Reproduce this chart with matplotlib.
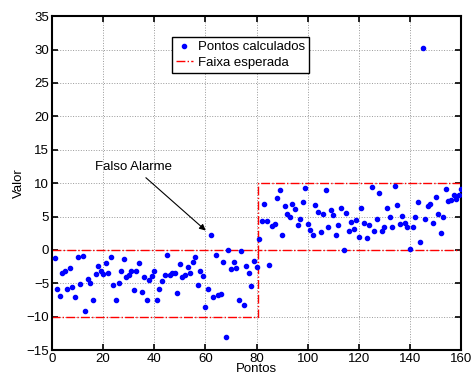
import matplotlib

matplotlib.use("Agg")
import matplotlib.pyplot as plt  # noqa: E402
import numpy as np  # noqa: E402

plt.rcParams["font.family"] = ["Liberation Sans", "DejaVu Sans"]

# computed points, x = 1..160
pontos = np.arange(1, 161)
valores = [
    -1.2, -5.9, -6.9, -3.5, -3.1, -5.8, -2.7, -5.6, -7.0, -1.0,
    -5.1, -0.9, -9.1, -4.4, -5.0, -7.5, -3.6, -2.4, -3.2, -3.6,
    -2.0, -3.4, -1.0, -5.3, -7.5, -5.0, -3.2, -1.3, -4.1, -3.7,
    -3.2, -6.0, -3.2, -1.9, -6.3, -4.0, -7.5, -4.5, -3.9, -3.2,
    -7.5, -5.9, -4.7, -3.7, -0.8, -3.7, -3.5, -3.5, -6.4, -2.1,
    -4.1, -3.7, -2.5, -3.4, -1.8, -1.0, -5.2, -3.2, -3.9, -8.5,
    -5.8, 2.2, -7.1, -0.8, -6.8, -6.6, -1.8, -13.0, 0.0, -2.8,
    -1.8, -2.7, -7.5, -0.2, -8.3, -2.4, -3.5, -5.4, -1.6, -2.6,
    1.6, 4.3, 6.9, 4.4, -2.2, 3.6, 3.9, 7.8, 9.0, 2.2,
    6.5, 5.4, 4.9, 6.8, 6.1, 3.8, 4.6, 7.1, 9.3, 3.9,
    3.0, 2.2, 6.7, 5.6, 2.7, 5.4, 9.0, 3.5, 5.9, 5.2,
    2.3, 3.7, 6.3, 0.0, 5.5, 2.9, 4.2, 3.1, 4.5, 1.9,
    6.3, 4.1, 1.8, 3.8, 9.4, 2.8, 4.7, 8.5, 2.8, 3.5,
    6.2, 5.0, 3.4, 9.6, 6.7, 3.9, 5.1, 4.1, 3.4, 0.2,
    3.4, 4.9, 7.1, 1.2, 30.3, 4.6, 6.5, 6.8, 4.1, 7.9,
    5.3, 2.6, 4.9, 9.1, 7.3, 7.5, 8.2, 7.6, 8.2, 9.1,
]

# expected range boxes
faixa1_x = [0, 80.5, 80.5, 0]
faixa1_y = [0, 0, -10, -10]
faixa2_x = [160, 80.5, 80.5, 160]
faixa2_y = [10, 10, 0, 0]

fig = plt.figure(figsize=(4.73, 3.76), dpi=100)
ax = fig.add_axes([0.110, 0.069, 0.865, 0.888])

ax.plot(pontos, valores, ".", color="#0000ff", ms=6, label="Pontos calculados", zorder=3)
ax.plot(faixa1_x, faixa1_y, "-.", color="#ff0000", lw=1.0, label="Faixa esperada", zorder=2)
ax.plot(faixa2_x, faixa2_y, "-.", color="#ff0000", lw=1.0, zorder=2)

ax.annotate("Falso Alarme", xy=(60.1, 2.9), xytext=(32, 12.4),
            ha="center", va="center", fontsize=9.5,
            arrowprops=dict(arrowstyle="-|>", color="black", lw=0.8,
                            mutation_scale=9, shrinkA=2, shrinkB=0))

ax.set_xlim(0, 160)
ax.set_ylim(-15, 35)
ax.set_xticks(np.arange(0, 161, 20))
ax.set_yticks(np.arange(-15, 36, 5))
ax.grid(True, ls=":", color="#999999", lw=0.7)
ax.tick_params(direction="in", top=True, right=True, length=4, width=1.2,
               labelsize=9.5, pad=2)
for s in ax.spines.values():
    s.set_linewidth(1.5)

ax.set_xlabel("Pontos", fontsize=9.5, labelpad=-1)
ax.set_ylabel("Valor", fontsize=9.5, labelpad=1)

leg = ax.legend(loc="upper left", bbox_to_anchor=(0.293, 0.937), fontsize=9.5,
                frameon=True, fancybox=False, edgecolor="black", framealpha=1,
                handlelength=1.3, borderpad=0.3, labelspacing=0.25,
                handletextpad=0.4, borderaxespad=0)
leg.get_frame().set_linewidth(1.0)

fig.savefig("out.png")
